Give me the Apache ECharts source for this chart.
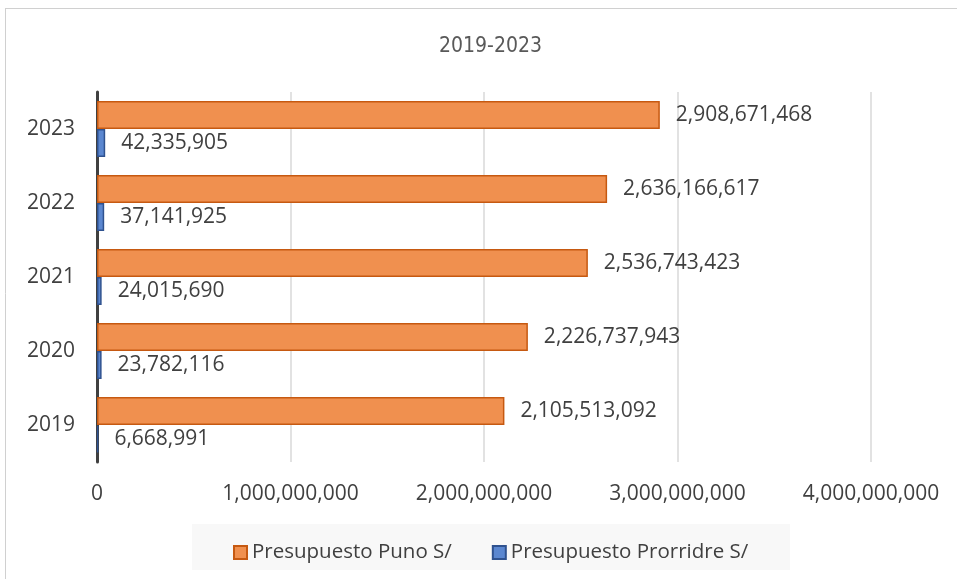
<!DOCTYPE html>
<html>
<head>
<meta charset="utf-8">
<script src="https://cdn.jsdelivr.net/npm/echarts@6/dist/echarts.min.js"></script>
<style>html,body{margin:0;padding:0;background:#fff}#c{width:957px;height:579px}</style>
</head>
<body>
<div id="c"></div>
<script>
var categories = ['2019', '2020', '2021', '2022', '2023'];
var punoValues = [2105513092, 2226737943, 2536743423, 2636166617, 2908671468];
var prorridreValues = [6668991, 23782116, 24015690, 37141925, 42335905];
var seriesNames = ['Presupuesto Puno S/', 'Presupuesto Prorridre S/'];
var xTicks = { min: 0, max: 4000000000, interval: 1000000000 };
var titleText = '2019-2023';

function fmt(v) { return Number(v).toLocaleString('en-US'); }

var chart = echarts.init(document.getElementById('c'));
var font = "'Open Sans', 'Noto Sans', sans-serif";
chart.setOption({
  animation: false,
  backgroundColor: '#ffffff',
  graphic: [
    { type: 'line', shape: { x1: 5, y1: 8.5, x2: 957, y2: 8.5 }, style: { stroke: '#d0d0d0', lineWidth: 1 } },
    { type: 'line', shape: { x1: 5.5, y1: 8, x2: 5.5, y2: 579 }, style: { stroke: '#d0d0d0', lineWidth: 1 } },
    { type: 'rect', shape: { x: 192, y: 524, width: 598, height: 46 }, style: { fill: '#f8f8f8' }, z: -1 }
  ],
  title: {
    text: titleText,
    left: 434, top: 31,
    textStyle: { fontFamily: "'Liberation Sans Narrow', 'DejaVu Sans Condensed', 'Open Sans', sans-serif", fontSize: 21, fontWeight: 'normal', color: '#595959' }
  },
  legend: {
    data: seriesNames,
    left: 228, top: 537,
    itemWidth: 13, itemHeight: 13, itemGap: 40,
    icon: 'rect',
    textStyle: { fontFamily: font, fontSize: 20.5, color: '#404040' }
  },
  grid: { left: 97, right: 86, top: 92, bottom: 117, containLabel: false },
  xAxis: {
    type: 'value', min: xTicks.min, max: xTicks.max, interval: xTicks.interval,
    axisLine: { show: false }, axisTick: { show: false },
    splitLine: { lineStyle: { color: '#d9d9d9', width: 1.5 } },
    axisLabel: { formatter: fmt, margin: 22, fontFamily: font, fontSize: 21, color: '#404040' }
  },
  yAxis: {
    type: 'category', data: categories,
    axisLine: { show: true, lineStyle: { color: '#404040', width: 3 } },
    axisTick: { show: false },
    axisLabel: { margin: 22, fontFamily: font, fontSize: 21, color: '#404040' }
  },
  series: [
    {
      name: seriesNames[0], type: 'bar', data: punoValues,
      barGap: '0%', barCategoryGap: '24%',
      itemStyle: { color: '#f0904f', borderColor: '#c65911', borderWidth: 1.5 },
      label: { show: true, position: 'right', distance: 16, formatter: function (p) { return fmt(p.value); }, fontFamily: font, fontSize: 21, color: '#404040' }
    },
    {
      name: seriesNames[1], type: 'bar', data: prorridreValues,
      barGap: '0%', barCategoryGap: '24%',
      itemStyle: { color: '#5b87d0', borderColor: '#2f528f', borderWidth: 1.5 },
      label: { show: true, position: 'right', distance: 16, formatter: function (p) { return fmt(p.value); }, fontFamily: font, fontSize: 21, color: '#404040' }
    }
  ]
});
</script>
</body>
</html>
